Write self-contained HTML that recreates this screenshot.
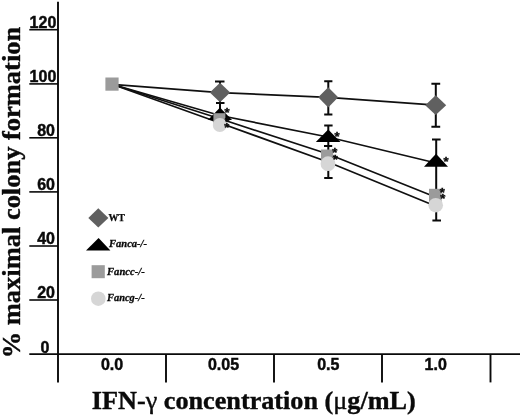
<!DOCTYPE html>
<html><head><meta charset="utf-8"><title>IFN-γ colony formation</title>
<style>
html,body{margin:0;padding:0;background:#fff;}
svg{display:block;filter:grayscale(1);}
.ab{font-family:"Liberation Sans",Arial,sans-serif;font-weight:bold;font-size:16px;fill:#0a0a0a;stroke:#0a0a0a;stroke-width:0.45px;}
.ts{font-family:"Liberation Serif","Times New Roman",serif;font-weight:bold;fill:#0a0a0a;stroke:#0a0a0a;stroke-width:0.4px;}
.lg{font-family:"Liberation Serif","Times New Roman",serif;font-weight:bold;font-style:italic;font-size:10.5px;fill:#0a0a0a;stroke:#0a0a0a;stroke-width:0.3px;}
.st{font-family:"Liberation Sans",Arial,sans-serif;font-weight:bold;font-size:13px;fill:#0a0a0a;stroke:#0a0a0a;stroke-width:0.4px;}
</style></head>
<body>
<svg width="520" height="417" viewBox="0 0 520 417">
<rect width="520" height="417" fill="#fff"/>
<!-- axes -->
<g stroke="#0a0a0a" stroke-width="1.9" fill="none">
<line x1="58" y1="1.8" x2="58" y2="382.5"/>
<line x1="29.3" y1="354.2" x2="520" y2="354.2" stroke-width="1.7"/>
<line x1="166" y1="354" x2="166" y2="382.4"/>
<line x1="274" y1="354" x2="274" y2="382.4"/>
<line x1="382" y1="354" x2="382" y2="382.4"/>
<line x1="490.5" y1="354" x2="490.5" y2="382.4"/>
</g>
<g stroke="#0a0a0a" stroke-width="1.6">
<line x1="29.3" y1="29.7" x2="58" y2="29.7"/>
<line x1="29.3" y1="83.9" x2="58" y2="83.9"/>
<line x1="29.3" y1="137.8" x2="58" y2="137.8"/>
<line x1="29.3" y1="191.9" x2="58" y2="191.9"/>
<line x1="29.3" y1="246" x2="58" y2="246"/>
<line x1="29.3" y1="300" x2="58" y2="300"/>
</g>
<!-- y labels -->
<g class="ab" text-anchor="end">
<text x="56.3" y="27.9">120</text>
<text x="56.3" y="82.2">100</text>
<text x="55" y="136.2">80</text>
<text x="55" y="190.2">60</text>
<text x="55" y="244.3">40</text>
<text x="55" y="298.3">20</text>
<text x="49.5" y="352.6">0</text>
</g>
<!-- x labels -->
<g class="ab" text-anchor="middle">
<text x="112" y="369.6">0.0</text>
<text x="223.5" y="369.6">0.05</text>
<text x="328.3" y="369.6">0.5</text>
<text x="435.7" y="369.6">1.0</text>
</g>
<!-- titles -->
<text class="ts" font-size="26" x="91.8" y="409.2" textLength="324" lengthAdjust="spacingAndGlyphs">IFN-<tspan font-weight="normal">γ</tspan> concentration (<tspan font-weight="normal">μ</tspan>g/mL)</text>
<text class="ts" font-size="26" transform="translate(19.8,358.3) rotate(-90)" textLength="331.5" lengthAdjust="spacingAndGlyphs">% maximal colony formation</text>
<!-- data lines -->
<g stroke="#101010" stroke-width="1.7" fill="none">
<polyline points="112,84.3 220,92.6 328,97.3 435.7,105.2"/>
<polyline points="112,84.3 220,115.5 328,137 436,163"/>
<polyline points="112,84.3 220,118.8 328,154 436,197.2"/>
<polyline points="112,84.3 220,123 328,162 436,206.2"/>
</g>
<!-- error bars -->
<g stroke="#0a0a0a" stroke-width="2" fill="none">
<path d="M220,81.6V120 M215,81.6H224.5 M216,103H224.5"/>
<path d="M328.3,81.2V114.6 M324.2,81.2H332.4 M324.2,114.6H332.4"/>
<path d="M328.3,125.4V178 M324.2,125.4H332.6 M324,146H332.2 M324.2,178H332.6"/>
<path d="M435.8,83.8V126.8 M431.4,83.8H440.2 M431.4,126.8H440.2"/>
<path d="M436.2,139.6V220.6 M432,139.6H440.6 M432.4,220.6H441"/>
</g>
<!-- markers -->
<!-- triangles -->
<g fill="#000">
<polygon points="220,107.6 232,120 208,120"/>
<polygon points="328.2,129.4 340.5,142.1 315.8,142.1"/>
<polygon points="436,153.8 448,166.7 424,166.7"/>
</g>
<!-- squares -->
<g fill="#9b9b9b">
<rect x="105.4" y="77.5" width="13.2" height="13.2"/>
<rect x="213.4" y="113.2" width="12" height="13"/>
<rect x="321" y="149.5" width="12.2" height="13"/>
<rect x="429" y="188.8" width="12.6" height="13"/>
</g>
<!-- circles -->
<g fill="#d6d6d6">
<circle cx="219.8" cy="125" r="7"/>
<circle cx="328" cy="163.7" r="7.4"/>
<circle cx="435.7" cy="205.2" r="7.3"/>
</g>
<!-- diamonds -->
<g fill="#606060">
<polygon points="220,82.8 230.2,92.6 220,102.3 209.8,92.6"/>
<polygon points="328.2,87.2 338.2,97.3 328.2,107.4 318.2,97.3"/>
<polygon points="435.7,95.3 446.2,105.2 435.7,115.1 425.2,105.2"/>
</g>
<!-- asterisks -->
<g class="st" text-anchor="middle">
<text x="227" y="116.9">*</text>
<text x="227.4" y="125.6">*</text>
<text x="226.9" y="131.8">*</text>
<text x="337" y="140.5">*</text>
<text x="334.8" y="156.8">*</text>
<text x="335.3" y="163.5">*</text>
<text x="446" y="165.7">*</text>
<text x="442.4" y="197.3">*</text>
<text x="442.7" y="203.3">*</text>
</g>
<!-- legend -->
<polygon fill="#606060" points="98.3,208.3 108.4,218 98.3,227.6 88.3,218"/>
<polygon fill="#000" points="98.6,238 110.4,250.5 86,250.5"/>
<rect fill="#9b9b9b" x="91.6" y="265.2" width="13.2" height="13"/>
<circle fill="#d6d6d6" cx="98.3" cy="298.7" r="7.3"/>
<text class="ts" font-size="10.5" x="108.4" y="221" textLength="16.6" style="stroke-width:.25px" lengthAdjust="spacingAndGlyphs">WT</text>
<text class="lg" x="109" y="247.4" textLength="38" lengthAdjust="spacingAndGlyphs">Fanca-/-</text>
<text class="lg" x="107" y="275" textLength="37.7" lengthAdjust="spacingAndGlyphs">Fancc-/-</text>
<text class="lg" x="107" y="300.5" textLength="37.7" lengthAdjust="spacingAndGlyphs">Fancg-/-</text>
</svg>
</body></html>
